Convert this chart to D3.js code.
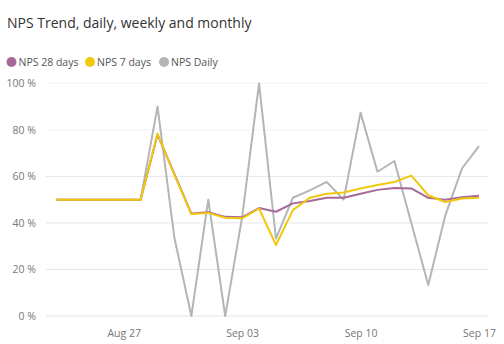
<!DOCTYPE html>
<html><head><meta charset="utf-8">
<script src="https://cdn.jsdelivr.net/npm/d3@7"></script>
<style>
body{margin:0;background:#fff;}
svg{display:block;font-family:"Segoe UI","Open Sans",sans-serif;}
</style></head>
<body><svg id="chart" width="504" height="344"></svg>
<script>
const startDate = "2018-08-23";
const npsDaily = [50,50,50,50,50,50,90,33.5,0,50,0,42.5,100,33.3,50.8,54,57.6,50,87.4,62,66.6,40,13.3,43,63.5,73];
const nps7 = [50,50,50,50,50,50,78.4,60.5,43.8,44.3,42.2,42,46.2,30.5,45.5,50.8,52.5,53.1,54.8,56.3,57.6,60.3,51.9,49,50.5,50.8];
const nps28 = [50,50,50,50,50,50,78,61,44,44.6,42.6,42.4,46.4,44.8,48.4,49.4,50.8,50.8,52.5,54.2,55,54.8,50.8,50,51,51.7];
const yTicks = [0,20,40,60,80,100];
const xTickLabels = ["2018-08-27","2018-09-03","2018-09-10","2018-09-17"];
const series = [
  {name:"NPS 28 days", values:nps28, color:"#A66999"},
  {name:"NPS 7 days", values:nps7, color:"#F2C80F"},
  {name:"NPS Daily", values:npsDaily, color:"#B3B6B7"}
];

const parse = d3.timeParse("%Y-%m-%d");
const d0 = parse(startDate);
const dates = npsDaily.map((_,i)=>d3.timeDay.offset(d0,i));
const svg = d3.select("#chart");
const plotL = 46, plotR = 489;
const x = d3.scaleTime().domain([dates[0], dates[dates.length-1]]).range([56,479]);
const y = d3.scaleLinear().domain([0,100]).range([316,83.3]);

svg.append("text").attr("x",7).attr("y",28).attr("font-size",14).attr("fill","#333").text("NPS Trend, daily, weekly and monthly");

// legend
const legendX = [11.5, 90, 164];
series.forEach((s,i)=>{
  const g = svg.append("g").attr("transform",`translate(${legendX[i]},62)`);
  g.append("circle").attr("r",5).attr("fill",s.color);
  g.append("text").attr("x",7).attr("y",4).attr("font-size",10.5).attr("fill","#555").text(s.name);
});

// grid
svg.append("g").selectAll("line").data(yTicks).join("line")
  .attr("x1",plotL).attr("x2",plotR).attr("y1",d=>y(d)).attr("y2",d=>y(d))
  .attr("stroke","#e6e6e6").attr("stroke-width",1)
  .attr("stroke-dasharray",d=>d>=80?"1,1":null);

// y labels
svg.append("g").selectAll("text").data(yTicks).join("text")
  .attr("x",36).attr("y",d=>y(d)+4).attr("text-anchor","end")
  .attr("font-size",10.5).attr("fill","#777").text(d=>d+" %");

// x axis
const xa = d3.axisBottom(x).tickValues(xTickLabels.map(parse)).tickFormat(d3.timeFormat("%b %d")).tickSize(0).tickPadding(0);
const xg = svg.append("g").attr("transform","translate(0,337)").call(xa);
xg.select(".domain").remove();
xg.selectAll("text").attr("font-size",10.5).attr("fill","#777").attr("font-family","Segoe UI, Open Sans, sans-serif").attr("dy",0).attr("y",0);

// lines
const line = d3.line().x((d,i)=>x(dates[i])).y(d=>y(d));
[series[2],series[0],series[1]].forEach(s=>{
  svg.append("path").datum(s.values).attr("d",line).attr("fill","none")
    .attr("stroke",s.color).attr("stroke-width",2).attr("stroke-linejoin","round");
});
</script></body></html>
